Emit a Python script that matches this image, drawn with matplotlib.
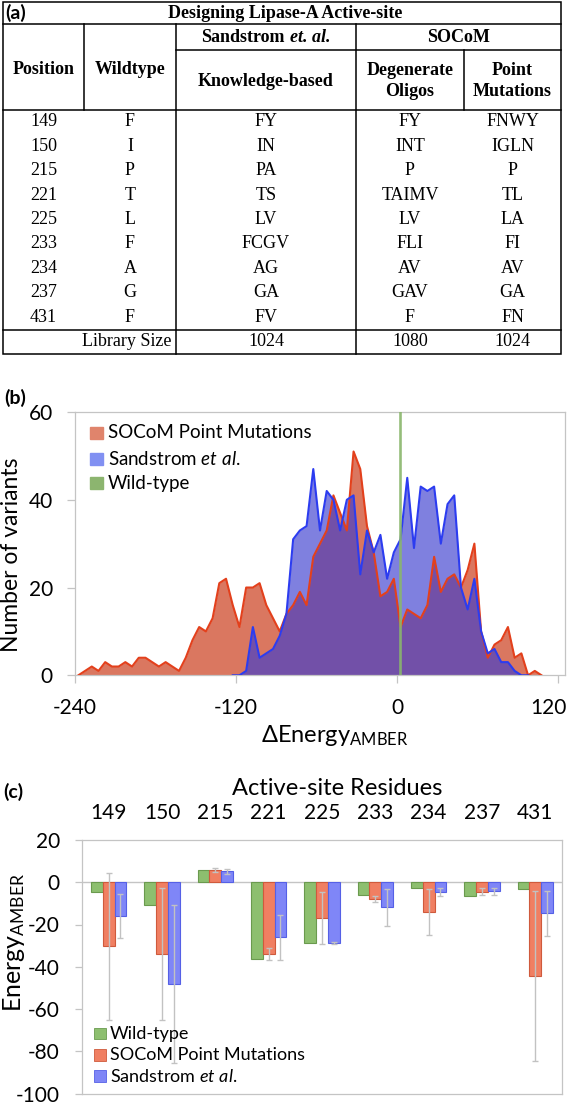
import numpy as np
import matplotlib
matplotlib.use('Agg')
import matplotlib.pyplot as plt
import matplotlib.transforms as mtransforms
from matplotlib.patches import Rectangle
from matplotlib.offsetbox import TextArea, HPacker, AnnotationBbox

plt.rcParams['font.family'] = ['Lato', 'DejaVu Sans']
plt.rcParams['mathtext.fontset'] = 'custom'
plt.rcParams['mathtext.rm'] = 'Lato'
plt.rcParams['mathtext.it'] = 'Lato:italic'
plt.rcParams['mathtext.bf'] = 'Lato:bold'
plt.rcParams['mathtext.fallback'] = 'stixsans'
plt.rcParams['axes.unicode_minus'] = False

# ---------------- (a) table data ----------------
positions = ['149', '150', '215', '221', '225', '233', '234', '237', '431']
wildtype = ['F', 'I', 'P', 'T', 'L', 'F', 'A', 'G', 'F']
sandstrom_lib = ['FY', 'IN', 'PA', 'TS', 'LV', 'FCGV', 'AG', 'GA', 'FV']
degenerate_lib = ['FY', 'INT', 'P', 'TAIMV', 'LV', 'FLI', 'AV', 'GAV', 'F']
point_lib = ['FNWY', 'IGLN', 'P', 'TL', 'LA', 'FI', 'AV', 'GA', 'FN']
library_sizes = ['1024', '1080', '1024']

# ---------------- (b) histogram data ----------------
socom_x = [-237.5, -232.5, -227.5, -222.5, -217.5, -212.5, -207.5, -202.5, -197.5, -192.5,
           -187.5, -182.5, -177.5, -172.5, -167.5, -162.5, -157.5, -152.5, -147.5, -142.5,
           -137.5, -132.5, -127.5, -122.5, -117.5, -112.5, -107.5, -102.5, -97.5, -92.5,
           -87.5, -82.5, -77.5, -72.5, -67.5, -62.5, -57.5, -52.5, -47.5, -42.5,
           -37.5, -32.5, -27.5, -22.5, -17.5, -12.5, -7.5, -2.5, 2.5, 7.5,
           12.5, 17.5, 22.5, 27.5, 32.5, 37.5, 42.5, 47.5, 52.5, 57.5,
           62.5, 67.5, 72.5, 77.5, 82.5, 87.5, 92.5, 97.5, 102.5, 107.5]
socom_counts = [0, 1, 2, 1, 3, 2, 2, 3, 2, 4,
                4, 3, 2, 3, 2, 1, 4, 8, 11, 10,
                13, 21, 22, 16, 11, 20, 20, 21, 16, 13,
                10, 14, 16, 19, 16, 27, 30, 33, 41, 37,
                33, 51, 47, 34, 28, 18, 19, 22, 11, 15,
                14, 13, 16, 27, 19, 22, 23, 20, 24, 30,
                10, 4, 7, 8, 11, 4, 5, 0, 1, 0]
sand_x = [-122.5, -117.5, -112.5, -107.5, -102.5, -97.5, -92.5, -87.5, -82.5, -77.5,
          -72.5, -67.5, -62.5, -57.5, -52.5, -47.5, -42.5, -37.5, -32.5, -27.5,
          -22.5, -17.5, -12.5, -7.5, -2.5, 2.5, 7.5, 12.5, 17.5, 22.5,
          27.5, 32.5, 37.5, 42.5, 47.5, 52.5, 57.5, 62.5, 67.5, 72.5,
          77.5, 82.5, 87.5, 92.5, 97.5]
sand_counts = [0, 0, 1, 11, 4, 5, 6, 9, 14, 31,
               33, 34, 47, 33, 42, 40, 33, 40, 41, 23,
               33, 28, 32, 22, 28, 31, 45, 29, 43, 42,
               43, 30, 39, 41, 20, 15, 22, 10, 5, 6,
               3, 3, 1, 0, 0]
wildtype_energy = 2
hist_xticks = [-240, -120, 0, 120]
hist_yticks = [0, 20, 40, 60]

# ---------------- (c) per-residue energies ----------------
residues = ['149', '150', '215', '221', '225', '233', '234', '237', '431']
wt_energy = [-4.7, -10.8, 5.8, -36.3, -28.7, -5.9, -2.7, -6.6, -3.2]
socom_energy = [-30.3, -34.0, 5.8, -34.0, -17.0, -8.0, -14.2, -4.4, -44.5]
socom_err = [34.8, 31.1, 0.8, 2.9, 12.2, 1.3, 10.9, 1.6, 40.3]
sand_energy = [-16.0, -48.2, 5.2, -26.0, -28.7, -11.8, -4.7, -4.3, -14.7]
sand_err = [10.4, 37.4, 1.2, 10.6, 0.4, 8.8, 1.8, 1.6, 10.6]
bar_yticks = [-100, -80, -60, -40, -20, 0, 20]

# ---------------- figure ----------------
W, H = 567, 1104
fig = plt.figure(figsize=(W / 100, H / 100), dpi=100)


def fx(px):
    return px / W


def fy(py):
    return 1 - py / H


ov = fig.add_axes([0, 0, 1, 1], zorder=10)
ov.set_xlim(0, W)
ov.set_ylim(H, 0)
ov.axis('off')

# ---------------- table ----------------
SERIF = 'Liberation Serif'
FS_T = 13
lw_t = 1.1
L, R, T, B = 3, 561, 2, 354
x_pos, x_wt, x_sand, x_soc = 84, 176, 356, 464
y_title, y_sub, y_head, y_lib = 24, 50, 110, 330

ov.add_patch(Rectangle((L, T), R - L, B - T, fill=False, lw=lw_t, ec='black'))
for yy, xa, xb in [(y_title, L, R), (y_sub, x_wt, R), (y_head, L, R), (y_lib, L, R)]:
    ov.plot([xa, xb], [yy, yy], color='black', lw=lw_t)
for xx, ya, yb in [(x_pos, y_title, y_head), (x_wt, y_title, B), (x_sand, y_title, B),
                   (x_soc, y_sub, y_head)]:
    ov.plot([xx, xx], [ya, yb], color='black', lw=lw_t)

cx = [(L + x_pos) / 2, (x_pos + x_wt) / 2, (x_wt + x_sand) / 2,
      (x_sand + x_soc) / 2, (x_soc + R) / 2]

hb = dict(fontfamily=SERIF, fontsize=FS_T, fontweight='bold', ha='center', va='center')
ov.text(5, 13, '(a)', fontsize=14, fontweight='bold', ha='left', va='center')
ov.text(285, 13, 'Designing Lipase-A Active-site', **hb)
ov.text(cx[0], 69, 'Position', **hb)
ov.text(cx[1], 69, 'Wildtype', **hb)
ov.text((x_sand + R) / 2, 37, 'SOCoM', **hb)
ov.text(cx[2], 81, 'Knowledge-based', **hb)
ov.text(cx[3], 81, 'Degenerate\nOligos', linespacing=1.25, **hb)
ov.text(cx[4], 81, 'Point\nMutations', linespacing=1.25, **hb)
pk = HPacker(children=[
    TextArea('Sandstrom', textprops=dict(fontfamily=SERIF, fontsize=FS_T, fontweight='bold')),
    TextArea('et. al.', textprops=dict(fontfamily=SERIF, fontsize=FS_T, fontweight='bold',
                                       fontstyle='italic'))], sep=4, pad=0, align='baseline')
ov.add_artist(AnnotationBbox(pk, (cx[2], 37), xycoords='data', frameon=False,
                             box_alignment=(0.5, 0.5), pad=0))

tb = dict(fontfamily=SERIF, fontsize=FS_T, ha='center', va='center')
row0, rstep = 122, 24.4
for i in range(len(positions)):
    yy = row0 + rstep * i
    for c, val in zip(cx, [positions[i], wildtype[i], sandstrom_lib[i],
                           degenerate_lib[i], point_lib[i]]):
        ov.text(c, yy, val, **tb)
ov.text(x_wt - 4, 342, 'Library Size', fontfamily=SERIF, fontsize=FS_T, ha='right', va='center')
for c, val in zip(cx[2:], library_sizes):
    ov.text(c, 342, val, **tb)

# ---------------- (b) ----------------
GRID = '#c4c4c4'
axb = fig.add_axes([fx(75), fy(675.3), 490 / W, 263.3 / H])
axb.fill_between(socom_x, socom_counts, color='#da7760', lw=0, zorder=1)
axb.fill_between(sand_x, sand_counts, color='#3a3ccf', alpha=0.65, lw=0, zorder=2)
axb.plot(socom_x, socom_counts, color='#e3401c', lw=1.5, zorder=3)
axb.plot(sand_x, sand_counts, color='#2c3cf0', lw=1.5, zorder=4)
axb.axvline(wildtype_energy, color='#8ab66c', lw=1.9, alpha=0.9, zorder=5)
axb.set_xlim(-240, 125)
axb.set_ylim(0, 60)
axb.set_xticks(hist_xticks)
axb.set_yticks(hist_yticks)
for s in axb.spines.values():
    s.set_color(GRID)
    s.set_linewidth(0.9)
axb.tick_params(axis='both', color=GRID, length=6, width=0.9, labelsize=15, pad=10)
# keep the last x label inside the figure (as the reference does)
last_lab = axb.get_xticklabels()[-1]
last_lab.set_horizontalalignment('right')
last_lab.set_transform(last_lab.get_transform() +
                       mtransforms.ScaledTranslation(8 / 100, 0, fig.dpi_scale_trans))

ov.add_patch(Rectangle((90, 426.5), 12.5, 12, color='#e0846c'))
ov.add_patch(Rectangle((90, 453), 12.5, 12, color='#8190f2'))
ov.add_patch(Rectangle((90, 477.3), 12.5, 12, color='#8cb56f'))
fig.text(fx(108), fy(432.5), 'SOCoM Point Mutations', fontsize=13.5, va='center')
fig.text(fx(108), fy(459), r'Sandstrom $\mathit{et\ al.}$', fontsize=13.5, va='center')
fig.text(fx(108), fy(483.3), 'Wild-type', fontsize=13.5, va='center')

fig.text(fx(4), fy(398), '(b)', fontsize=14, fontweight='bold', va='center')
fig.text(fx(12), fy(555), 'Number of variants', fontsize=16.5, rotation=90,
         ha='center', va='center')
fig.text(fx(335), fy(742), r'$\Delta$Energy$_{\mathregular{AMBER}}$', fontsize=17,
         ha='center', va='baseline')

# ---------------- (c) ----------------
axc = fig.add_axes([fx(82), fy(1093.5), 480 / W, 253.5 / H])
xi = np.arange(len(residues))
bw = 0.22
ekw = dict(ecolor='#c2c2c2', elinewidth=1.0, capsize=2.5, capthick=1.0, zorder=4)
axc.bar(xi - bw, wt_energy, bw, color='#8dbf6f', edgecolor='#6a9a4e', lw=0.8, zorder=2)
axc.bar(xi, socom_energy, bw, color='#f07f62', edgecolor='#cf5a3c', lw=0.8, zorder=2,
        yerr=socom_err, error_kw=ekw)
axc.bar(xi + bw, sand_energy, bw, color='#7f86f7', edgecolor='#5560e6', lw=0.8, zorder=2,
        yerr=sand_err, error_kw=ekw)
axc.axhline(0, color=GRID, lw=1.0, zorder=1)
axc.set_xlim(-0.5, len(residues) - 0.5)
axc.set_ylim(-100, 20)
axc.set_yticks(bar_yticks)
axc.xaxis.tick_top()
axc.set_xticks(xi)
axc.set_xticklabels(residues)
for s in axc.spines.values():
    s.set_color(GRID)
    s.set_linewidth(0.9)
axc.tick_params(axis='x', length=0, labelsize=15, pad=12)
axc.tick_params(axis='y', color=GRID, length=5, width=0.9, labelsize=15, pad=11)

ov.add_patch(Rectangle((94, 1027.7), 12, 11.6, color='#8dbf6f', ec='#6a9a4e', lw=0.6))
ov.add_patch(Rectangle((94, 1049.2), 12, 11.6, color='#f07f62', ec='#cf5a3c', lw=0.6))
ov.add_patch(Rectangle((94, 1070.2), 12, 11.6, color='#7f86f7', ec='#5560e6', lw=0.6))
fig.text(fx(110), fy(1033.5), 'Wild-type', fontsize=13, va='center')
fig.text(fx(110), fy(1055), 'SOCoM Point Mutations', fontsize=13, va='center')
fig.text(fx(110), fy(1076), r'Sandstrom $\mathit{et\ al.}$', fontsize=13, va='center')

fig.text(fx(3), fy(792), '(c)', fontsize=14, fontweight='bold', va='center')
fig.text(fx(337), fy(795), 'Active-site Residues', fontsize=17, ha='center', va='baseline')
fig.text(fx(14), fy(942), r'Energy$_{\mathregular{AMBER}}$', fontsize=18, rotation=90,
         ha='center', va='center')

fig.savefig('out.png', dpi=100)
